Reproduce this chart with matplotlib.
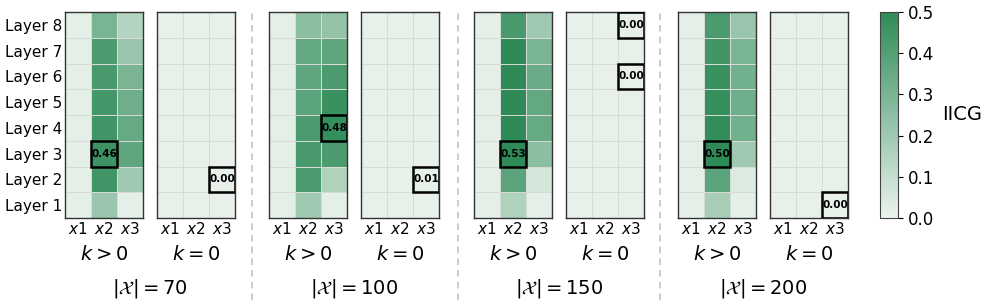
import numpy as np
import matplotlib
matplotlib.use("Agg")
import matplotlib.pyplot as plt
from matplotlib.colors import LinearSegmentedColormap
from matplotlib.patches import Rectangle

layers = ["Layer 1", "Layer 2", "Layer 3", "Layer 4", "Layer 5", "Layer 6", "Layer 7", "Layer 8"]
cols = ["$x1$", "$x2$", "$x3$"]
sizes = [70, 100, 150, 200]

# rows = Layer 1 .. Layer 8, columns = x1, x2, x3
k_pos_70 = [[0.02, 0.22, 0.02], [0.02, 0.45, 0.20], [0.02, 0.46, 0.37], [0.02, 0.45, 0.35],
            [0.02, 0.44, 0.33], [0.02, 0.43, 0.30], [0.02, 0.42, 0.22], [0.02, 0.30, 0.15]]
k_pos_100 = [[0.02, 0.20, 0.02], [0.02, 0.42, 0.16], [0.02, 0.43, 0.42], [0.02, 0.42, 0.48],
             [0.02, 0.38, 0.47], [0.02, 0.37, 0.42], [0.02, 0.36, 0.37], [0.02, 0.25, 0.23]]
k_pos_150 = [[0.02, 0.16, 0.02], [0.02, 0.38, 0.06], [0.02, 0.53, 0.25], [0.02, 0.52, 0.35],
             [0.02, 0.52, 0.36], [0.02, 0.50, 0.34], [0.02, 0.50, 0.30], [0.02, 0.43, 0.20]]
k_pos_200 = [[0.02, 0.18, 0.02], [0.02, 0.38, 0.04], [0.02, 0.50, 0.20], [0.02, 0.49, 0.32],
             [0.02, 0.48, 0.33], [0.02, 0.47, 0.32], [0.02, 0.45, 0.30], [0.02, 0.42, 0.22]]
k_zero = [[0.01, 0.01, 0.01]] * 8

# highlighted cells: (row index, col index, value)
hl_pos = [[(2, 1, 0.46)], [(3, 2, 0.48)], [(2, 1, 0.53)], [(2, 1, 0.50)]]
hl_zero = [[(1, 2, 0.00)], [(1, 2, 0.01)], [(7, 2, 0.00), (5, 2, 0.00)], [(0, 2, 0.00)]]

pos_data = [k_pos_70, k_pos_100, k_pos_150, k_pos_200]

cmap = LinearSegmentedColormap.from_list("g", ["#ebf3ed", "#2e8b57"])

W, H = 986, 306
fig = plt.figure(figsize=(W / 100, H / 100), dpi=100)

def px_axes(x0, x1, y0=12, y1=218):
    return fig.add_axes([x0 / W, 1 - y1 / H, (x1 - x0) / W, (y1 - y0) / H])

lefts = [65, 157, 269, 361, 474, 566, 678, 770]
pw = 78

def draw(ax, data, hls, label, first):
    arr = np.array(data)
    m = ax.pcolormesh(arr, cmap=cmap, vmin=0, vmax=0.5, edgecolors="#d8dad8", linewidth=0.5)
    for r, c, v in hls:
        ax.add_patch(Rectangle((c, r), 1, 1, fill=False, ec="black", lw=1.8, zorder=5))
        ax.text(c + 0.5, r + 0.5, f"{v:.2f}", ha="center", va="center",
                fontsize=7.5, fontweight="bold", zorder=6)
    ax.set_xlim(0, 3)
    ax.set_ylim(0, 8)
    ax.set_xticks(np.arange(3) + 0.5)
    ax.set_xticklabels(cols, fontsize=11)
    ax.tick_params(length=0, pad=2)
    if first:
        ax.set_yticks(np.arange(8) + 0.5)
        ax.set_yticklabels(layers, fontsize=11)
    else:
        ax.set_yticks([])
    ax.set_xlabel(label, fontsize=14, labelpad=6)
    for s in ax.spines.values():
        s.set_color("#333333")
        s.set_linewidth(1.0)
    return m

for i in range(4):
    a1 = px_axes(lefts[2 * i], lefts[2 * i] + pw)
    m = draw(a1, pos_data[i], hl_pos[i], "$k>0$", i == 0)
    a2 = px_axes(lefts[2 * i + 1], lefts[2 * i + 1] + pw)
    draw(a2, k_zero, hl_zero[i], "$k=0$", False)
    cx = (lefts[2 * i] + lefts[2 * i + 1] + pw) / 2
    fig.text(cx / W, 1 - 288 / H, r"$|\mathcal{X}|=%d$" % sizes[i], ha="center", va="center", fontsize=14)

for xs in [252, 458, 660]:
    fig.add_artist(plt.Line2D([xs / W, xs / W], [1 - 300 / H, 1 - 12 / H], color="#c4c4c4",
                              lw=1.2, ls=(0, (4, 3))))

cax = px_axes(880, 898)
cb = fig.colorbar(m, cax=cax)
cb.set_ticks([0, 0.1, 0.2, 0.3, 0.4, 0.5])
cb.ax.tick_params(labelsize=12)
cb.outline.set_edgecolor("#444444")
cb.set_label("IICG", fontsize=14, rotation=0, labelpad=20, va="center")

fig.savefig("out.png", dpi=100)
